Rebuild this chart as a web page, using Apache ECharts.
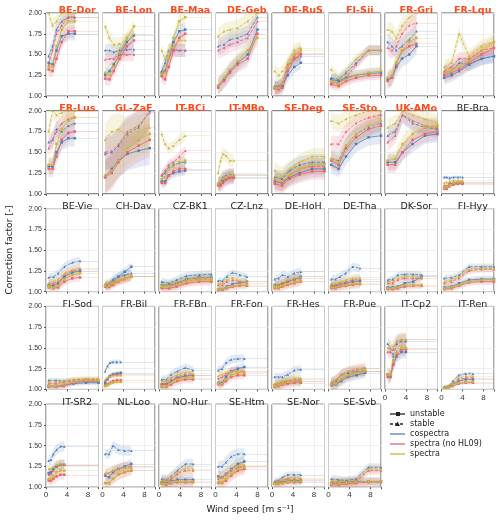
<!DOCTYPE html>
<html><head><meta charset="utf-8">
<script src="https://cdn.jsdelivr.net/npm/echarts@6/dist/echarts.min.js"></script>
<style>html,body{margin:0;padding:0;background:#fff}#main{width:500px;height:525px}</style>
</head><body><div id="main"></div>
<script>
var SITES=['BE-Dor','BE-Lon','BE-Maa','DE-Geb','DE-RuS','FI-Sii','FR-Gri','FR-Lqu',
 'FR-Lus','GL-ZaF','IT-BCi','IT-MBo','SE-Deg','SE-Sto','UK-AMo','BE-Bra',
 'BE-Vie','CH-Dav','CZ-BK1','CZ-Lnz','DE-HoH','DE-Tha','DK-Sor','FI-Hyy',
 'FI-Sod','FR-Bil','FR-FBn','FR-Fon','FR-Hes','FR-Pue','IT-Cp2','IT-Ren',
 'IT-SR2','NL-Loo','NO-Hur','SE-Htm','SE-Nor','SE-Svb'];
var HIGHLIGHT=15; // first 15 sites have red titles
var XEND=[5.5,6,5,8,5.5,10,6,10, 5.5,9,5,3.5,10,10,10,4, 6.5,5.5,10,6,5.5,6,7,10, 10,3.5,6.5,5.5,5.5,7,4,6, 3.5,5.5,6.5,5.5,5.5,10];
var XFRAC=[0,0.15,0.3,0.5,0.75,1];
var BAND=[0.08,0.08,0.08,0.1,0.08,0.06,0.1,0.08, 0.1,0.2,0.06,0.08,0.1,0.1,0.1,0.02, 0.05,0.05,0.05,0.04,0.05,0.05,0.04,0.04, 0.03,0.03,0.05,0.05,0.05,0.06,0.08,0.02, 0.06,0.06,0.06,0.07,0.04,0.05];

var COS_U=[[1.40,1.38,1.55,1.72,1.75,1.75],[1.25,1.30,1.38,1.50,1.65,1.73],[1.28,1.30,1.45,1.65,1.78,1.80],[1.12,1.20,1.30,1.40,1.50,1.80],[1.10,1.10,1.12,1.25,1.35,1.40],[1.20,1.18,1.22,1.25,1.27,1.28],[1.20,1.22,1.35,1.45,1.50,1.60],[1.22,1.25,1.30,1.38,1.45,1.48],
 [1.33,1.33,1.50,1.62,1.67,1.67],[1.20,1.30,1.40,1.48,1.52,1.55],[1.15,1.15,1.22,1.25,1.27,1.28],[1.12,1.12,1.15,1.18,1.20,1.20],[1.15,1.13,1.20,1.25,1.30,1.30],[1.35,1.30,1.45,1.60,1.68,1.70],[1.38,1.38,1.50,1.60,1.70,1.72],[1.07,1.08,1.12,1.13,1.13,1.13],
 [1.08,1.07,1.10,1.18,1.23,1.25],[1.07,1.07,1.12,1.18,1.24,1.30],[1.08,1.08,1.10,1.15,1.17,1.17],[1.03,1.03,1.06,1.09,1.11,1.12],[1.08,1.08,1.10,1.12,1.15,1.18],[1.06,1.07,1.08,1.10,1.12,1.13],[1.05,1.05,1.06,1.10,1.12,1.18],[1.05,1.06,1.10,1.14,1.15,1.15],
 [1.04,1.04,1.05,1.07,1.08,1.08],[1.08,1.12,1.16,1.18,1.19,1.20],[1.06,1.06,1.10,1.14,1.16,1.17],[1.08,1.08,1.15,1.22,1.25,1.27],[1.05,1.06,1.07,1.09,1.10,1.10],[1.05,1.06,1.10,1.15,1.17,1.20],[1.18,1.15,1.30,1.40,1.45,1.45],[1.02,1.03,1.06,1.10,1.12,1.12],
 [1.17,1.18,1.22,1.25,1.27,1.27],[1.14,1.12,1.18,1.22,1.25,1.28],[1.06,1.05,1.07,1.09,1.09,1.09],[1.13,1.12,1.16,1.22,1.28,1.31],[1.05,1.05,1.06,1.08,1.08,1.08],[1.05,1.05,1.06,1.07,1.07,1.07]];
var COS_S=[[1.48,1.60,1.80,1.90,1.95,1.95],[1.55,1.55,1.53,1.55,1.56,1.56],[1.30,1.40,1.55,1.56,1.55,1.55],[1.60,1.62,1.68,1.70,1.75,1.95],[1.12,1.12,1.15,1.35,1.45,1.48],[1.22,1.20,1.28,1.40,1.55,1.55],[1.65,1.60,1.55,1.60,1.68,1.78],[1.28,1.30,1.40,1.38,1.45,1.48],
 [1.62,1.65,1.78,1.75,1.82,1.85],[1.48,1.50,1.58,1.72,1.80,2.0],[1.22,1.25,1.32,1.35,1.37,1.38],[1.12,1.15,1.20,1.22,1.23,1.23],[1.20,1.18,1.28,1.35,1.38,1.38],[1.42,1.40,1.58,1.72,1.80,1.85],[1.70,1.75,1.95,1.85,1.80,1.78],[1.20,1.20,1.19,1.20,1.20,1.20],
 [1.17,1.18,1.22,1.30,1.35,1.37],[1.08,1.10,1.15,1.18,1.20,1.22],[1.12,1.10,1.14,1.19,1.20,1.21],[1.13,1.13,1.18,1.23,1.20,1.18],[1.15,1.16,1.20,1.18,1.22,1.24],[1.15,1.15,1.18,1.22,1.30,1.28],[1.14,1.15,1.20,1.21,1.21,1.20],[1.16,1.17,1.20,1.30,1.30,1.30],
 [1.11,1.11,1.10,1.10,1.10,1.10],[1.22,1.28,1.32,1.33,1.33,1.33],[1.12,1.12,1.18,1.22,1.26,1.23],[1.23,1.25,1.32,1.36,1.37,1.37],[1.15,1.15,1.15,1.18,1.23,1.24],[1.08,1.10,1.18,1.20,1.22,1.22],[1.55,1.50,1.40,1.55,1.58,1.58],[1.03,1.04,1.10,1.17,1.19,1.19],
 [1.32,1.33,1.40,1.45,1.49,1.49],[1.40,1.40,1.50,1.45,1.44,1.44],[1.10,1.09,1.13,1.20,1.28,1.28],[1.25,1.25,1.30,1.37,1.40,1.40],[1.07,1.08,1.12,1.15,1.15,1.15],[1.10,1.09,1.08,1.10,1.24,1.24]];
var NHL_U=[[1.32,1.30,1.45,1.65,1.78,1.78],[1.21,1.20,1.30,1.45,1.60,1.67],[1.24,1.20,1.35,1.55,1.70,1.75],[1.10,1.18,1.28,1.38,1.45,1.75],[1.09,1.08,1.10,1.30,1.45,1.50],[1.14,1.12,1.18,1.22,1.25,1.25],[1.18,1.22,1.38,1.55,1.60,1.63],[1.25,1.28,1.32,1.40,1.50,1.58],
 [1.30,1.30,1.45,1.65,1.73,1.75],[1.20,1.25,1.38,1.50,1.58,1.65],[1.13,1.13,1.22,1.27,1.30,1.30],[1.10,1.10,1.13,1.17,1.19,1.19],[1.12,1.10,1.18,1.23,1.27,1.27],[1.40,1.35,1.55,1.68,1.78,1.82],[1.35,1.35,1.50,1.65,1.72,1.75],[1.06,1.06,1.09,1.11,1.12,1.12],
 [1.05,1.04,1.05,1.12,1.16,1.17],[1.06,1.06,1.08,1.12,1.15,1.18],[1.04,1.04,1.06,1.10,1.12,1.12],[1.02,1.02,1.04,1.06,1.07,1.07],[1.04,1.04,1.06,1.08,1.10,1.12],[1.04,1.04,1.06,1.07,1.08,1.09],[1.03,1.03,1.04,1.06,1.07,1.07],[1.03,1.04,1.07,1.11,1.12,1.12],
 [1.03,1.03,1.04,1.08,1.10,1.10],[1.05,1.06,1.08,1.10,1.11,1.11],[1.03,1.03,1.06,1.10,1.12,1.12],[1.06,1.06,1.10,1.15,1.17,1.17],[1.03,1.04,1.06,1.07,1.08,1.08],[1.06,1.07,1.12,1.17,1.20,1.22],[1.15,1.15,1.30,1.42,1.48,1.48],[1.02,1.02,1.04,1.07,1.08,1.08],
 [1.08,1.08,1.10,1.13,1.15,1.15],[1.05,1.05,1.10,1.15,1.18,1.20],[1.04,1.03,1.05,1.06,1.06,1.06],[1.05,1.05,1.08,1.14,1.20,1.22],[1.04,1.04,1.05,1.06,1.06,1.06],[1.03,1.03,1.04,1.05,1.06,1.06]];
var NHL_S=[[1.38,1.55,1.75,1.85,1.95,1.95],[1.44,1.45,1.45,1.50,1.50,1.50],[1.25,1.30,1.45,1.55,1.55,1.55],[1.55,1.58,1.62,1.65,1.70,1.90],[1.10,1.10,1.15,1.38,1.48,1.52],[1.16,1.15,1.22,1.38,1.55,1.55],[1.58,1.55,1.60,1.75,1.85,1.88],[1.30,1.35,1.45,1.45,1.55,1.58],
 [1.55,1.65,1.75,1.85,1.90,1.92],[1.50,1.52,1.60,1.75,1.82,1.98],[1.23,1.28,1.35,1.38,1.45,1.52],[1.12,1.13,1.18,1.20,1.22,1.22],[1.15,1.13,1.22,1.30,1.33,1.33],[1.60,1.60,1.75,1.85,1.92,1.95],[1.62,1.70,1.95,1.88,1.82,1.80],[1.10,1.10,1.12,1.13,1.14,1.14],
 [1.09,1.10,1.12,1.20,1.25,1.27],[1.08,1.08,1.10,1.14,1.16,1.18],[1.06,1.06,1.09,1.13,1.15,1.15],[1.08,1.08,1.12,1.14,1.12,1.10],[1.07,1.08,1.10,1.12,1.14,1.16],[1.08,1.08,1.10,1.12,1.14,1.15],[1.10,1.10,1.14,1.16,1.16,1.16],[1.10,1.12,1.16,1.25,1.27,1.27],
 [1.07,1.07,1.09,1.12,1.12,1.12],[1.10,1.13,1.16,1.18,1.18,1.18],[1.07,1.07,1.12,1.15,1.18,1.17],[1.13,1.15,1.18,1.22,1.22,1.22],[1.06,1.07,1.09,1.10,1.12,1.12],[1.08,1.12,1.18,1.22,1.24,1.26],[1.45,1.45,1.48,1.58,1.60,1.60],[1.03,1.03,1.07,1.12,1.14,1.14],
 [1.15,1.16,1.20,1.25,1.27,1.27],[1.16,1.17,1.20,1.22,1.24,1.25],[1.08,1.07,1.10,1.16,1.20,1.20],[1.10,1.12,1.15,1.20,1.24,1.25],[1.06,1.06,1.08,1.10,1.10,1.10],[1.06,1.06,1.06,1.07,1.20,1.20]];
var SPC_U=[[1.35,1.36,1.60,1.80,1.90,1.90],[1.28,1.25,1.35,1.52,1.70,1.84],[1.27,1.28,1.45,1.70,1.90,1.95],[1.13,1.22,1.32,1.42,1.55,1.70],[1.10,1.10,1.15,1.35,1.50,1.55],[1.18,1.15,1.20,1.25,1.28,1.30],[1.22,1.25,1.40,1.55,1.65,1.70],[1.28,1.30,1.35,1.42,1.55,1.65],
 [1.35,1.35,1.60,1.78,1.88,1.92],[1.22,1.28,1.40,1.55,1.65,1.72],[1.18,1.20,1.30,1.33,1.38,1.40],[1.12,1.14,1.18,1.20,1.22,1.22],[1.18,1.15,1.22,1.30,1.35,1.35],[1.42,1.38,1.58,1.72,1.82,1.88],[1.40,1.42,1.60,1.72,1.80,1.82],[1.07,1.08,1.10,1.13,1.14,1.14],
 [1.06,1.05,1.07,1.15,1.20,1.22],[1.07,1.07,1.10,1.13,1.16,1.18],[1.06,1.06,1.08,1.12,1.14,1.14],[1.03,1.03,1.05,1.07,1.08,1.08],[1.05,1.05,1.07,1.09,1.11,1.13],[1.05,1.05,1.07,1.08,1.09,1.10],[1.04,1.04,1.05,1.08,1.08,1.08],[1.04,1.05,1.08,1.12,1.14,1.14],
 [1.04,1.04,1.06,1.09,1.11,1.11],[1.04,1.05,1.07,1.08,1.09,1.09],[1.04,1.04,1.08,1.12,1.14,1.14],[1.07,1.07,1.12,1.17,1.20,1.20],[1.04,1.05,1.07,1.09,1.10,1.10],[1.06,1.07,1.12,1.17,1.20,1.22],[1.18,1.18,1.35,1.45,1.50,1.50],[1.02,1.02,1.05,1.08,1.09,1.09],
 [1.10,1.10,1.13,1.18,1.20,1.20],[1.05,1.05,1.10,1.15,1.18,1.21],[1.04,1.04,1.06,1.07,1.07,1.07],[1.06,1.06,1.10,1.16,1.22,1.24],[1.04,1.04,1.05,1.07,1.07,1.07],[1.04,1.04,1.05,1.06,1.07,1.07]];
var SPC_S=[[2.0,1.85,1.90,2.0,2.0,2.0],[1.84,1.70,1.62,1.63,1.68,1.75],[1.55,1.45,1.55,1.60,1.67,1.67],[1.72,1.78,1.80,1.82,1.90,2.0],[1.30,1.25,1.30,1.40,1.55,1.58],[1.32,1.22,1.30,1.45,1.55,1.55],[1.80,1.78,1.70,1.85,1.95,2.0],[1.35,1.40,1.75,1.48,1.60,1.66],
 [1.75,2.0,1.95,1.98,2.0,2.0],[1.65,1.75,1.78,1.70,1.75,1.80],[1.72,1.60,1.55,1.58,1.65,1.70],[1.25,1.40,1.48,1.46,1.40,1.40],[1.28,1.22,1.30,1.38,1.45,1.45],[1.88,1.85,1.90,1.95,2.0,2.0],[1.80,1.85,2.0,1.95,1.90,1.85],[1.13,1.14,1.15,1.16,1.16,1.16],
 [1.10,1.12,1.15,1.22,1.26,1.28],[1.10,1.10,1.12,1.14,1.16,1.18],[1.08,1.08,1.11,1.15,1.17,1.17],[1.10,1.10,1.14,1.17,1.13,1.12],[1.08,1.09,1.12,1.14,1.16,1.18],[1.10,1.10,1.12,1.14,1.16,1.17],[1.12,1.12,1.16,1.18,1.18,1.18],[1.12,1.14,1.18,1.27,1.28,1.28],
 [1.09,1.09,1.10,1.12,1.13,1.13],[1.12,1.14,1.16,1.17,1.17,1.17],[1.10,1.10,1.14,1.17,1.20,1.19],[1.16,1.18,1.20,1.22,1.22,1.21],[1.07,1.08,1.10,1.11,1.13,1.13],[1.08,1.12,1.18,1.22,1.24,1.25],[1.50,1.50,1.52,1.58,1.60,1.60],[1.03,1.04,1.08,1.14,1.16,1.16],
 [1.22,1.22,1.24,1.27,1.28,1.28],[1.17,1.17,1.20,1.22,1.24,1.24],[1.08,1.08,1.12,1.18,1.22,1.22],[1.12,1.12,1.16,1.22,1.26,1.27],[1.06,1.07,1.09,1.11,1.11,1.11],[1.07,1.07,1.07,1.08,1.22,1.22]];

var C_COS='#4f7fb8', C_NHL='#ef5f6f', C_SPC='#c9b63a';
var LINES=[[COS_U,C_COS,false],[COS_S,C_COS,true],[NHL_U,C_NHL,false],[NHL_S,C_NHL,true],[SPC_U,C_SPC,false],[SPC_S,C_SPC,true]];

// band polygon drawn once per series from all its points
function bandRender(col){
  return function(params,api){
    if(params.dataIndex!==0) return;
    var n=params.dataInsideLength||api.value.length, up=[],lo=[];
    var cnt=params.context.cnt;
    for(var j=0;j<cnt;j++){
      up.push(api.coord([api.value(0,j),api.value(2,j)]));
      lo.unshift(api.coord([api.value(0,j),api.value(1,j)]));
    }
    var pts=echarts.graphic.clipPointsByRect(up.concat(lo),params.coordSys);
    return {type:'polygon',shape:{points:pts},style:{fill:col,opacity:0.16},silent:true};
  };
}

var chart=echarts.init(document.getElementById('main'));
var grids=[],xAxes=[],yAxes=[],titles=[],series=[];
var colLeft=46, colStep=56.5, pw=52.5, rowTop=13, rowStep=97.8, ph=83;
SITES.forEach(function(name,i){
  var r=Math.floor(i/8), c=i%8;
  var left=colLeft+c*colStep, top=rowTop+r*rowStep;
  grids.push({left:left,top:top,width:pw,height:ph,show:true,borderColor:'#555',borderWidth:1});
  var showX = (r==4) || (r==3 && c>=6);
  xAxes.push({gridIndex:i,type:'value',min:0,max:10,interval:4,
    axisLine:{show:false},axisTick:{show:true,length:2,lineStyle:{color:'#555'}},
    axisLabel:{show:showX,fontSize:8,color:'#333',margin:4,formatter:function(v){return v<=8?v:'';}},
    splitLine:{show:true,lineStyle:{color:'#ebebeb',width:0.8}}});
  yAxes.push({gridIndex:i,type:'value',min:1,max:2,interval:0.25,
    axisLine:{show:false},axisTick:{show:c==0,length:2,lineStyle:{color:'#555'}},
    axisLabel:{show:c==0,fontSize:7,color:'#333',margin:4,formatter:function(v){return v.toFixed(2);}},
    splitLine:{show:true,lineStyle:{color:'#ebebeb',width:0.8}}});
  var hl=i<HIGHLIGHT;
  titles.push({text:name,left:left+pw/2,top:top-12,textAlign:'center',
    textStyle:{fontSize:9.5,fontWeight:hl?'bold':'normal',color:hl?'#ff4a1c':'#222',fontFamily:'DejaVu Sans'}});
  var xs=XFRAC.map(function(f){return +(0.5+(XEND[i]-0.5)*f).toFixed(2);});
  LINES.forEach(function(L,k){
    var vals=L[0][i], col=L[1], stable=L[2], b=BAND[i];
    var ren=bandRender(col);
    series.push({type:'custom',xAxisIndex:i,yAxisIndex:i,silent:true,clip:true,z:1,
      renderItem:function(p,api){p.context.cnt=xs.length;return ren(p,api);},
      data:xs.map(function(x,j){return [x,vals[j]-b,vals[j]+b];})});
    var last=vals[vals.length-1];
    series.push({type:'line',xAxisIndex:i,yAxisIndex:i,silent:true,z:3,
      symbol:stable?'triangle':'rect',symbolSize:2.5,
      itemStyle:{color:col},lineStyle:{color:col,width:0.8,type:stable?'dashed':'solid'},
      data:xs.map(function(x,j){return [x,vals[j]];}),
      markLine:XEND[i]<10?{silent:true,symbol:'none',label:{show:false},
        lineStyle:{color:col,width:1,type:'solid',opacity:0.18},
        data:[[{coord:[XEND[i],last]},{coord:[10,last]}]]}:undefined});
  });
});

var lg=[['unstable','#222','solid','rect'],['stable','#222','dashed','triangle'],['cospectra',C_COS,'solid'],['spectra (no HL09)',C_NHL,'solid'],['spectra',C_SPC,'solid']];
var graphics=[
  {type:'text',left:'center',top:505,x:0,style:{text:'Wind speed [m s\u207b\u00b9]',fontSize:9,fill:'#222',fontFamily:'DejaVu Sans'}},
  {type:'text',x:10,y:250,rotation:Math.PI/2,style:{text:'Correction factor [-]',fontSize:9,fill:'#222',align:'center',verticalAlign:'middle',fontFamily:'DejaVu Sans'}}
];
lg.forEach(function(it,j){
  var y=414+j*10;
  graphics.push({type:'line',shape:{x1:390,y1:y,x2:405,y2:y},style:{stroke:it[1],lineWidth:1.3,lineDash:it[2]=='dashed'?[3,2]:null}});
  if(it[3]=='rect') graphics.push({type:'rect',shape:{x:396,y:y-2,width:4,height:4},style:{fill:it[1]}});
  if(it[3]=='triangle') graphics.push({type:'polygon',shape:{points:[[397.5,y-2.5],[395,y+2],[400,y+2]]},style:{fill:it[1]}});
  graphics.push({type:'text',x:410,y:y,style:{text:it[0],fontSize:8,fill:'#222',verticalAlign:'middle',fontFamily:'DejaVu Sans'}});
});

chart.setOption({animation:false,title:titles,grid:grids,xAxis:xAxes,yAxis:yAxes,series:series,graphic:graphics});
</script></body></html>
